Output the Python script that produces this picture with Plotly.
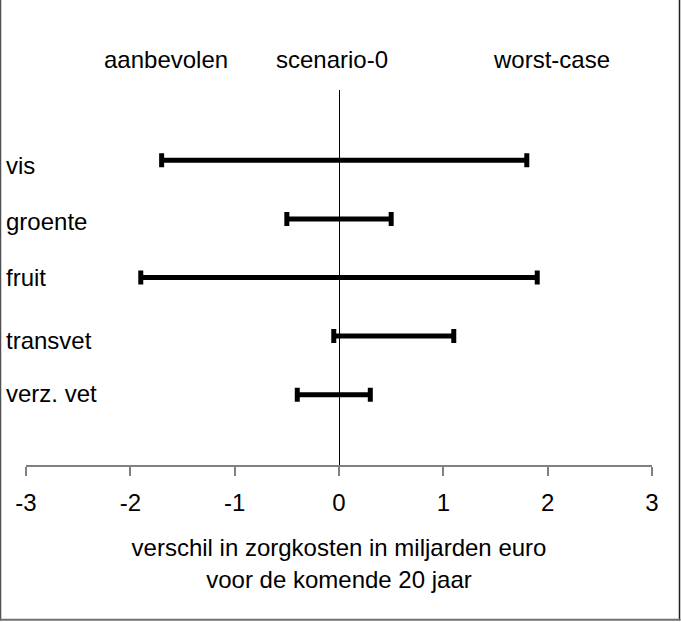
import plotly.graph_objects as go

categories = ["vis", "groente", "fruit", "transvet", "verz. vet"]
low_values = [-1.7, -0.5, -1.9, -0.05, -0.4]
high_values = [1.8, 0.5, 1.9, 1.1, 0.3]
y_positions = [5, 4, 3, 2, 1]
tick_values = [-3, -2, -1, 0, 1, 2, 3]
header_labels = ["aanbevolen", "scenario-0", "worst-case"]
header_x = [-1.66, -0.07, 2.04]
x_title = "verschil in zorgkosten in miljarden euro<br>voor de komende 20 jaar"

FONT = "Liberation Sans, Arial, sans-serif"
FS = 24

fig = go.Figure()
fig.add_trace(go.Scatter(
    x=[0] * len(categories),
    y=y_positions,
    mode="markers",
    marker=dict(size=1, color="rgba(0,0,0,0)"),
    error_x=dict(
        type="data",
        symmetric=False,
        array=high_values,
        arrayminus=[-v for v in low_values],
        thickness=5,
        width=7,
        color="black",
    ),
    hoverinfo="skip",
    showlegend=False,
))

W, H = 681, 622
ml, mr, mt, mb = 26, 29, 90, 157
pw = W - ml - mr
ph = H - mt - mb

def px(xp):
    return (xp - ml) / pw

def py(yp):
    return (H - yp - mb) / ph

label_shift = [-5, -3, 0, -4, 1]
for cat, yp, sh in zip(categories, y_positions, label_shift):
    fig.add_annotation(
        x=px(4), xref="paper", y=yp, yref="y",
        text=cat, showarrow=False, xanchor="left", yanchor="middle",
        yshift=sh, font=dict(family=FONT, size=FS, color="black"),
    )

for lab, hx in zip(header_labels, header_x):
    fig.add_annotation(
        x=hx, xref="x", y=py(60), yref="paper",
        text=lab, showarrow=False, xanchor="center", yanchor="middle",
        font=dict(family=FONT, size=FS, color="black"),
    )

# outer frame (left, right, bottom)
frame = dict(xref="paper", yref="paper", type="line", layer="below")
fig.add_shape(x0=px(0.5), x1=px(0.5), y0=py(620.5), y1=py(0), line=dict(color="#505050", width=1.5), **frame)
fig.add_shape(x0=px(679.5), x1=px(679.5), y0=py(620.5), y1=py(0), line=dict(color="#202020", width=1.5), **frame)
fig.add_shape(x0=px(0), x1=px(680.5), y0=py(619.8), y1=py(619.8), line=dict(color="#707070", width=2), **frame)

fig.update_layout(
    width=W, height=H,
    margin=dict(l=ml, r=mr, t=mt, b=mb),
    plot_bgcolor="white", paper_bgcolor="white",
    font=dict(family=FONT, size=FS, color="black"),
    xaxis=dict(
        range=[-3, 3], tickvals=tick_values, ticktext=[str(v) for v in tick_values],
        showgrid=False, zeroline=True, zerolinecolor="black", zerolinewidth=1,
        showline=True, linecolor="#808080", linewidth=1.5,
        ticks="outside", ticklen=9, tickcolor="#808080", tickwidth=1.5,
        ticklabelstandoff=6,
        tickfont=dict(family=FONT, size=FS, color="black"),
        title=dict(text=x_title, font=dict(family=FONT, size=FS, color="black"), standoff=25),
        fixedrange=True,
    ),
    yaxis=dict(
        range=[-0.2, 6.2], showgrid=False, zeroline=False, showline=False,
        showticklabels=False, ticks="", fixedrange=True,
    ),
)

fig.write_html("out.html")
